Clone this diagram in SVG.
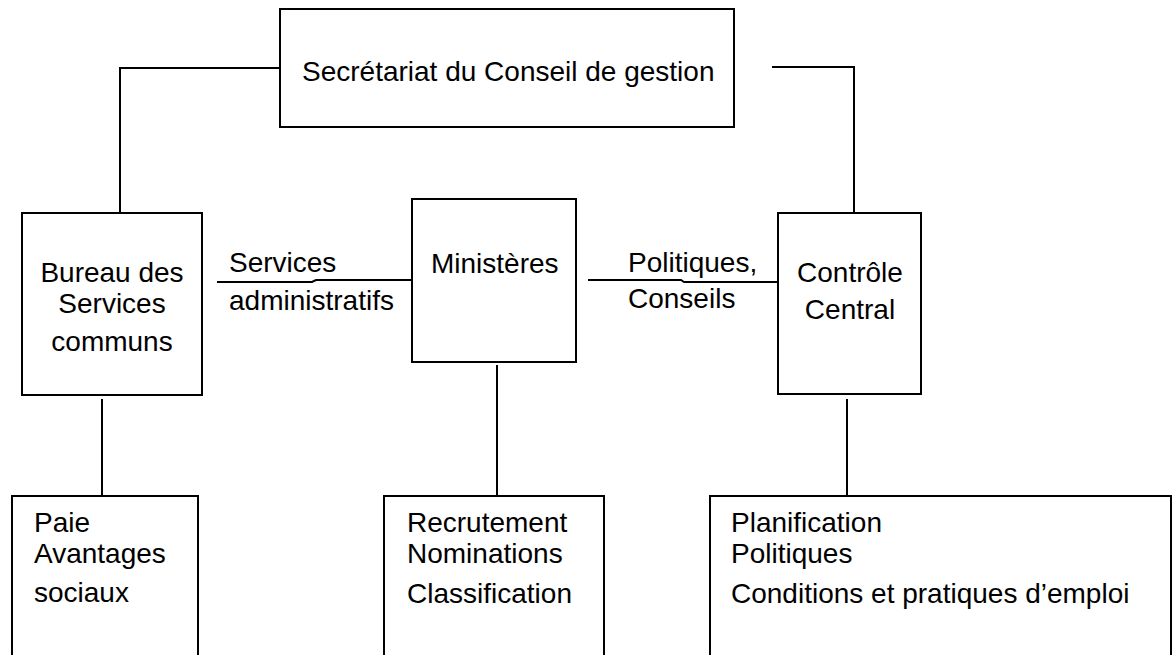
<svg xmlns="http://www.w3.org/2000/svg" width="1172" height="655" viewBox="0 0 1172 655">
<style>
.box{fill:#fff;stroke:#000;stroke-width:2}
.ln{fill:none;stroke:#000;stroke-width:2}
text{font-family:"Liberation Sans",Arial,sans-serif;font-size:28px;fill:#000}
.c{text-anchor:middle}
</style>
<rect width="1172" height="655" fill="#fff"/>
<g id="connectors">
<polyline class="ln" points="280,68 120,68 120,213"/>
<polyline class="ln" points="772,67 854,67 854,213"/>
<path class="ln" d="M217 282 H312 L316 280 H412"/>
<path class="ln" d="M588 280 H681 L684 282 H778"/>
<line class="ln" x1="102" y1="399" x2="102" y2="496"/>
<line class="ln" x1="497" y1="365" x2="497" y2="496"/>
<line class="ln" x1="847" y1="399" x2="847" y2="496"/>
<text x="229" y="272">Services</text>
<text x="229" y="310">administratifs</text>
<text x="628" y="272">Politiques,</text>
<text x="628" y="308">Conseils</text>
</g>
<g id="secretariat">
<rect class="box" x="280" y="9" width="454" height="118"/>
<text x="302" y="81">Secrétariat du Conseil de gestion</text>
</g>
<g id="bureau">
<rect class="box" x="22" y="213" width="180" height="182"/>
<text class="c" x="112" y="282">Bureau des</text>
<text class="c" x="112" y="313">Services</text>
<text class="c" x="112" y="351">communs</text>
</g>
<g id="ministeres">
<rect class="box" x="412" y="199" width="164" height="163"/>
<text x="431" y="273">Ministères</text>
</g>
<g id="controle">
<rect class="box" x="778" y="213" width="143" height="181"/>
<text class="c" x="850" y="282">Contrôle</text>
<text class="c" x="850" y="319">Central</text>
</g>
<g id="paie">
<rect class="box" x="12" y="496" width="186" height="180"/>
<text x="34" y="532">Paie</text>
<text x="34" y="563">Avantages</text>
<text x="34" y="602">sociaux</text>
</g>
<g id="recrutement">
<rect class="box" x="384" y="496" width="220" height="180"/>
<text x="407" y="532">Recrutement</text>
<text x="407" y="563">Nominations</text>
<text x="407" y="603">Classification</text>
</g>
<g id="planification">
<rect class="box" x="710" y="496" width="461" height="180"/>
<text x="731" y="532">Planification</text>
<text x="731" y="563">Politiques</text>
<text x="731" y="603">Conditions et pratiques d’emploi</text>
</g>
</svg>
